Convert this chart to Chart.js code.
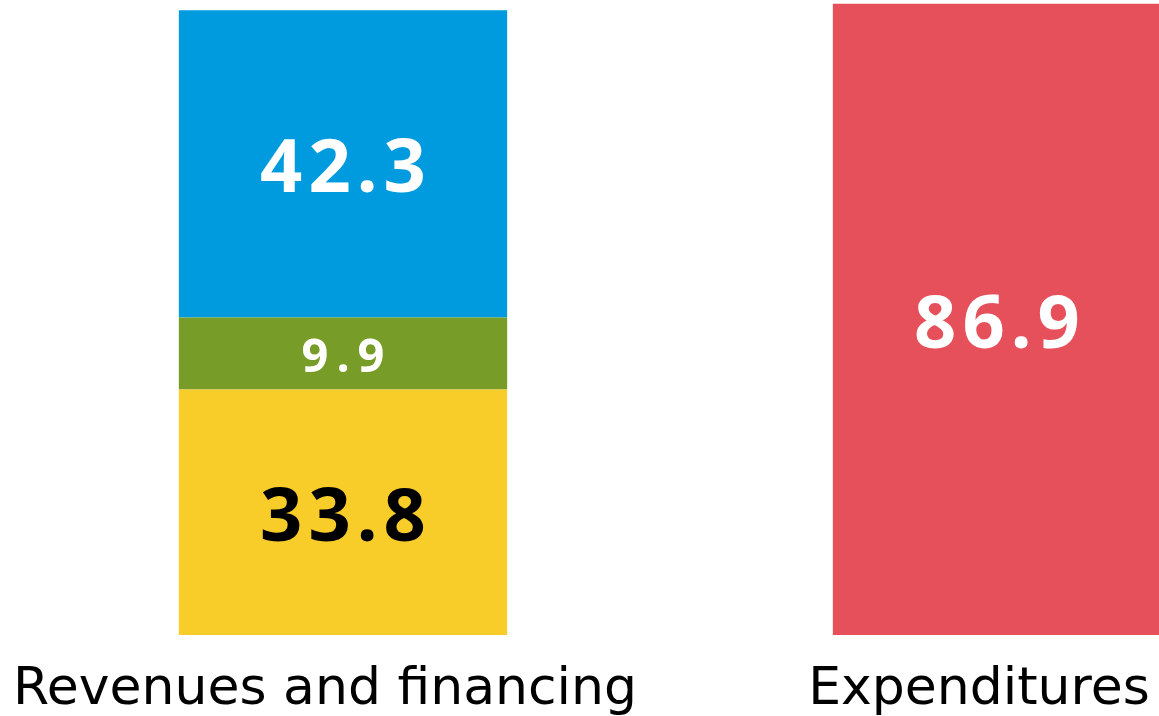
<!DOCTYPE html>
<html><head><meta charset="utf-8">
<script src="https://cdn.jsdelivr.net/npm/chart.js@4/dist/chart.umd.min.js"></script>
<style>
html,body{margin:0;padding:0;background:#fff;overflow:hidden;width:1159px;height:716px}
#wrap{position:relative;width:1324px;height:716px}
</style></head><body>
<div id="wrap"><canvas id="c"></canvas></div>
<script>
const categories = ["Revenues and financing", "Expenditures"];
const ownRevenues = [33.8, null];
const transfers = [9.9, null];
const financing = [42.3, null];
const expenditures = [null, 86.9];
const labelColors = ["#000000", "#ffffff", "#ffffff", "#ffffff"];

const valueLabels = {
  id: 'valueLabels',
  afterDatasetsDraw(chart) {
    const ctx = chart.ctx;
    chart.data.datasets.forEach((ds, i) => {
      const meta = chart.getDatasetMeta(i);
      meta.data.forEach((el, j) => {
        const v = ds.data[j];
        if (v == null) return;
        const p = el.getProps(['x', 'y', 'base'], true);
        const cy = (p.y + p.base) / 2;
        const ls = ds.labelSpacing;
        const txt = v.toFixed(1);
        ctx.save();
        ctx.fillStyle = ds.labelColor;
        ctx.font = `bold ${ds.labelSize}px "Noto Sans", sans-serif`;
        ctx.textAlign = 'left';
        ctx.textBaseline = 'alphabetic';
        const m = ctx.measureText(txt);
        const baseY = cy + (m.actualBoundingBoxAscent - m.actualBoundingBoxDescent) / 2 + 2;
        const chars = txt.split('');
        const widths = chars.map(c => ctx.measureText(c).width);
        const total = widths.reduce((a, b) => a + b, 0) + ls * (chars.length - 1);
        let x = p.x - total / 2;
        chars.forEach((c, k) => { ctx.fillText(c, x, baseY); x += widths[k] + ls; });
        ctx.restore();
      });
    });
  }
};

function build() {
  new Chart(document.getElementById('c'), {
    type: 'bar',
    data: {
      labels: categories,
      datasets: [
        {data: ownRevenues, backgroundColor: '#F9CD29', labelColor: labelColors[0], labelSize: 74, labelSpacing: 6},
        {data: transfers, backgroundColor: '#789C28', labelColor: labelColors[1], labelSize: 47, labelSpacing: 8},
        {data: financing, backgroundColor: '#009BDE', labelColor: labelColors[2], labelSize: 74, labelSpacing: 6},
        {data: expenditures, backgroundColor: '#E5505A', labelColor: labelColors[3], labelSize: 74, labelSpacing: 6}
      ]
    },
    options: {
      responsive: true,
      maintainAspectRatio: false,
      animation: false,
      layout: {padding: {left: 16, right: 0, top: 0, bottom: 0}},
      datasets: {bar: {barPercentage: 1, categoryPercentage: 0.502, skipNull: false}},
      plugins: {legend: {display: false}, tooltip: {enabled: false}},
      scales: {
        x: {
          stacked: true,
          grid: {display: false, drawTicks: false},
          border: {display: false},
          ticks: {color: '#000', font: {family: '"DejaVu Sans"', size: 52, lineHeight: 1}, padding: 29, labelOffset: -18, maxRotation: 0, autoSkip: false},
          afterFit(scale) { scale.height = 81; scale.paddingLeft = 0; scale.paddingRight = 0; }
        },
        y: {
          stacked: true, display: false, min: 0, max: 87.4
        }
      }
    },
    plugins: [valueLabels]
  });
}

Promise.all([
  document.fonts.load('bold 74px "Noto Sans"'),
  document.fonts.load('52px "DejaVu Sans"')
]).then(build, build);
</script>
</body></html>
